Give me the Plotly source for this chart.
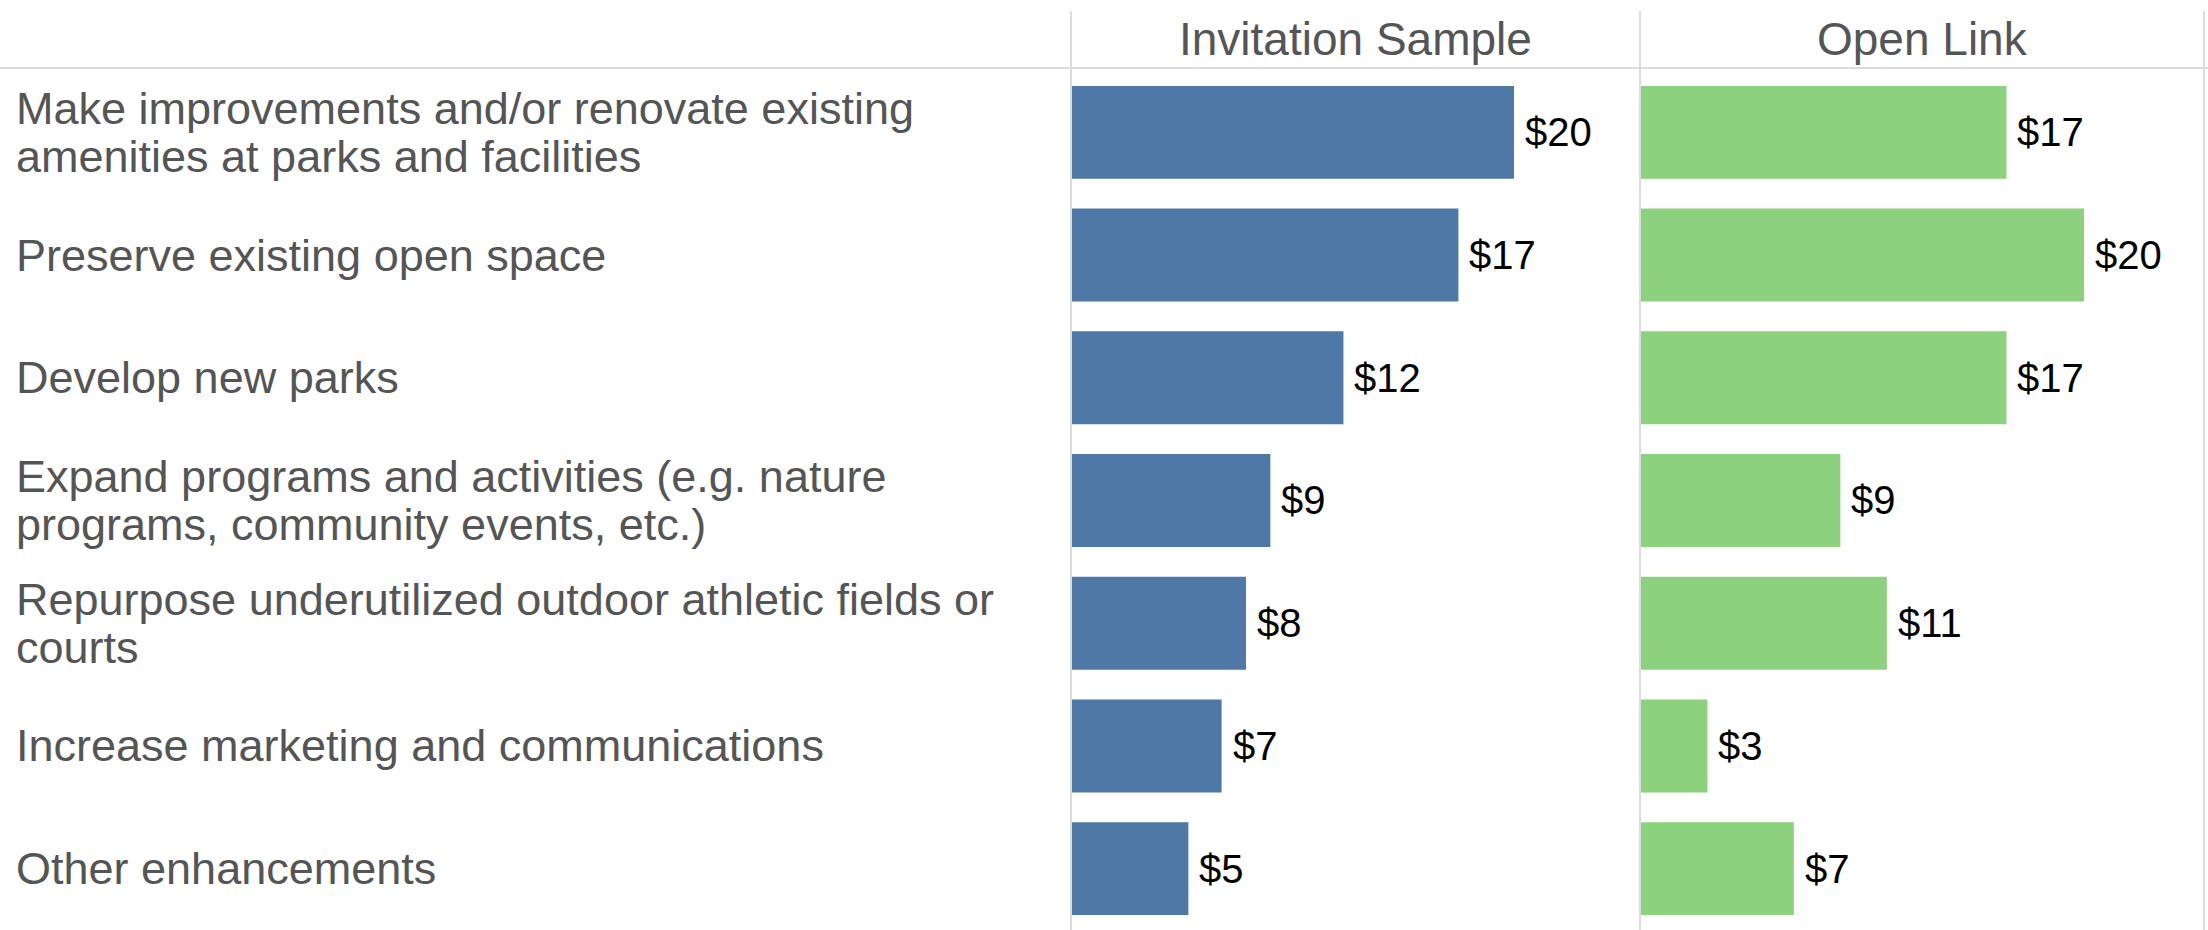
import plotly.graph_objects as go

categories = [
    ["Make improvements and/or renovate existing", "amenities at parks and facilities"],
    ["Preserve existing open space"],
    ["Develop new parks"],
    ["Expand programs and activities (e.g. nature", "programs, community events, etc.)"],
    ["Repurpose underutilized outdoor athletic fields or", "courts"],
    ["Increase marketing and communications"],
    ["Other enhancements"],
]
invitation_values = [20.0, 17.49, 12.3, 9.0, 7.9, 6.8, 5.3]
open_link_values = [16.5, 20.0, 16.5, 9.0, 11.1, 3.0, 6.9]
panel_titles = ["Invitation Sample", "Open Link"]

W, H = 2208, 930
PX_PER_UNIT = 22.15
x1a, x1b = 1071, 1640
x2a, x2b = 1641, 2204
header_y = 68
rows_top = 71
top_y = 11

FONT = "Liberation Sans, Arial, sans-serif"
BLUE = "#4e79a7"
GREEN = "#8cd17d"
GRAY_TEXT = "#555555"
LINE = "#dcdcdc"


def money(v):
    r = int(v + 0.5)
    return "$%d" % r


n = len(categories)
ypos = list(range(n))

fig = go.Figure()
fig.add_trace(go.Bar(x=invitation_values, y=ypos, orientation="h",
                     marker=dict(color=BLUE, line=dict(width=0)),
                     xaxis="x", yaxis="y", hoverinfo="skip"))
fig.add_trace(go.Bar(x=open_link_values, y=ypos, orientation="h",
                     marker=dict(color=GREEN, line=dict(width=0)),
                     xaxis="x2", yaxis="y", hoverinfo="skip"))

annotations = []
# value labels
for vals, xr in [(invitation_values, "x"), (open_link_values, "x2")]:
    for i, v in enumerate(vals):
        annotations.append(dict(x=v, y=i, xref=xr, yref="y", text=money(v),
                                showarrow=False, xanchor="left", yanchor="middle",
                                xshift=9, font=dict(family=FONT, size=40, color="#000000")))
# category labels
for i, lines in enumerate(categories):
    shifts = [0] if len(lines) == 1 else [24, -24]
    for line, s in zip(lines, shifts):
        annotations.append(dict(x=14 / W, y=i, xref="paper", yref="y", text=line,
                                showarrow=False, xanchor="left", yanchor="middle",
                                yshift=s, font=dict(family=FONT, size=45, color=GRAY_TEXT)))
# panel titles
for title, (a, b) in zip(panel_titles, [(x1a, x1b), (x2a, x2b)]):
    annotations.append(dict(x=(a + b) / 2 / W, y=1 - 39 / H, xref="paper", yref="paper",
                            text=title, showarrow=False, xanchor="center", yanchor="middle",
                            font=dict(family=FONT, size=46, color=GRAY_TEXT)))

shapes = []
for xp in [x1a, x1b, x2b]:
    shapes.append(dict(type="line", xref="paper", yref="paper", x0=xp / W, x1=xp / W,
                       y0=0, y1=1 - top_y / H, line=dict(color=LINE, width=2)))
shapes.append(dict(type="line", xref="paper", yref="paper", x0=0, x1=1,
                   y0=1 - header_y / H, y1=1 - header_y / H, line=dict(color=LINE, width=2)))

fig.update_layout(
    width=W, height=H,
    margin=dict(l=0, r=0, t=0, b=0),
    paper_bgcolor="white", plot_bgcolor="white",
    showlegend=False, bargap=0.243,
    font=dict(family=FONT),
    xaxis=dict(domain=[x1a / W, x1b / W], range=[0, (x1b - x1a) / PX_PER_UNIT],
               showgrid=False, zeroline=False, showticklabels=False, fixedrange=True),
    xaxis2=dict(domain=[x2a / W, x2b / W], range=[0, (x2b - x2a) / PX_PER_UNIT],
                showgrid=False, zeroline=False, showticklabels=False, fixedrange=True),
    yaxis=dict(domain=[0, 1 - rows_top / H], range=[n - 0.5, -0.5],
               showgrid=False, zeroline=False, showticklabels=False, fixedrange=True),
    annotations=annotations, shapes=shapes,
)

fig.write_html("out.html", config={"displayModeBar": False},
               post_script="document.body.style.margin='0';document.body.style.overflow='hidden';")
